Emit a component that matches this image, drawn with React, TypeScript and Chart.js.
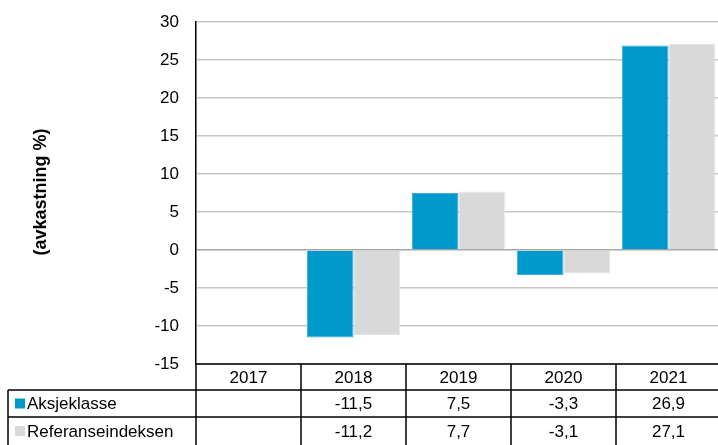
import React, { useEffect, useRef } from "react";
import { Chart, registerables } from "chart.js";

Chart.register(...registerables);

const years = ["2017", "2018", "2019", "2020", "2021"];
const aksjeklasse: (number | null)[] = [null, -11.5, 7.5, -3.3, 26.9];
const referanseindeksen: (number | null)[] = [null, -11.2, 7.7, -3.1, 27.1];
const seriesNames = ["Aksjeklasse", "Referanseindeksen"];
const seriesColors = ["#0099CC", "#D9D9D9"];
const yTitle = "(avkastning %)";
const yMin = -15;
const yMax = 30;
const yStep = 5;

const FONT = '"Liberation Sans", Arial, sans-serif';

const fmt = (v: number | null) => (v === null ? "" : v.toFixed(1).replace(".", ","));

const tablePlugin = {
  id: "dataTable",
  afterDraw(chart: any) {
    const ctx = chart.ctx as CanvasRenderingContext2D;
    const area = chart.chartArea;
    const xs = chart.scales.x;
    const n = years.length;
    const colW = (area.right - area.left) / n;
    const top = area.bottom;
    const row1 = top + 26;
    const row2 = row1 + 27;
    const bottom = chart.height;
    const leftX = 8;
    ctx.save();
    ctx.strokeStyle = "#000";
    ctx.lineWidth = 1.5;
    ctx.beginPath();
    ctx.moveTo(area.left, top);
    ctx.lineTo(area.right + 5, top);
    ctx.moveTo(leftX, row1);
    ctx.lineTo(area.right + 5, row1);
    ctx.moveTo(leftX, row2);
    ctx.lineTo(area.right + 5, row2);
    ctx.moveTo(leftX, row1);
    ctx.lineTo(leftX, bottom);
    for (let i = 0; i <= n; i++) {
      const x = i < n ? xs.getPixelForValue(i) - colW / 2 : xs.getPixelForValue(n - 1) + colW / 2;
      ctx.moveTo(x, top);
      ctx.lineTo(x, bottom);
    }
    ctx.stroke();

    ctx.fillStyle = "#000";
    ctx.font = `17px ${FONT}`;
    ctx.textAlign = "center";
    ctx.textBaseline = "middle";
    const datasets = [aksjeklasse, referanseindeksen];
    for (let i = 0; i < n; i++) {
      const cx = xs.getPixelForValue(i);
      ctx.fillText(years[i], cx, (top + row1) / 2 + 1);
      ctx.fillText(fmt(datasets[0][i]), cx, (row1 + row2) / 2 + 1);
      ctx.fillText(fmt(datasets[1][i]), cx, (row2 + bottom) / 2 + 1);
    }
    ctx.textAlign = "left";
    const rowsMid = [(row1 + row2) / 2, (row2 + bottom) / 2];
    for (let s = 0; s < 2; s++) {
      ctx.fillStyle = seriesColors[s];
      ctx.fillRect(15, rowsMid[s] - 5, 10, 10);
      ctx.fillStyle = "#000";
      ctx.fillText(seriesNames[s], 27, rowsMid[s] + 1);
    }

    ctx.translate(41, 192);
    ctx.rotate(-Math.PI / 2);
    ctx.font = `bold 18px ${FONT}`;
    ctx.textAlign = "center";
    ctx.fillText(yTitle, 0, 0);
    ctx.restore();
  },
};

export default function App() {
  const ref = useRef<HTMLCanvasElement>(null);
  useEffect(() => {
    if (!ref.current) return;
    const chart = new Chart(ref.current, {
      type: "bar",
      data: {
        labels: years,
        datasets: [
          {
            label: seriesNames[0],
            data: aksjeklasse,
            backgroundColor: seriesColors[0],
            borderColor: "#3AAEDB",
            borderWidth: 1,
            categoryPercentage: 0.89,
            barPercentage: 1,
          },
          {
            label: seriesNames[1],
            data: referanseindeksen,
            backgroundColor: seriesColors[1],
            borderColor: "#E6E6E6",
            borderWidth: 1,
            categoryPercentage: 0.89,
            barPercentage: 1,
          },
        ],
      },
      options: {
        responsive: false,
        animation: false,
        devicePixelRatio: 1,
        layout: { padding: { left: 0, top: 22, right: 2, bottom: 81 } },
        plugins: { legend: { display: false }, tooltip: { enabled: false } },
        scales: {
          x: { display: false },
          y: {
            min: yMin,
            max: yMax,
            afterFit: (s: any) => {
              s.width = 196;
              s.paddingTop = 0;
              s.paddingBottom = 0;
            },
            ticks: {
              stepSize: yStep,
              padding: 17,
              color: "#000",
              font: { family: FONT, size: 17 },
            },
            border: { display: true, color: "#000", width: 1.5 },
            grid: {
              drawTicks: false,
              lineWidth: 1.5,
              color: (c: any) => (c.tick && c.tick.value === 0 ? "#A6A6A6" : "#C8C8C8"),
            },
          },
        },
      },
      plugins: [tablePlugin],
    });
    return () => chart.destroy();
  }, []);
  return (
    <div style={{ position: "absolute", left: 0, top: 0, width: 718, height: 445, overflow: "hidden", background: "#fff" }}>
      <canvas ref={ref} width={723} height={445} style={{ display: "block" }} />
    </div>
  );
}
